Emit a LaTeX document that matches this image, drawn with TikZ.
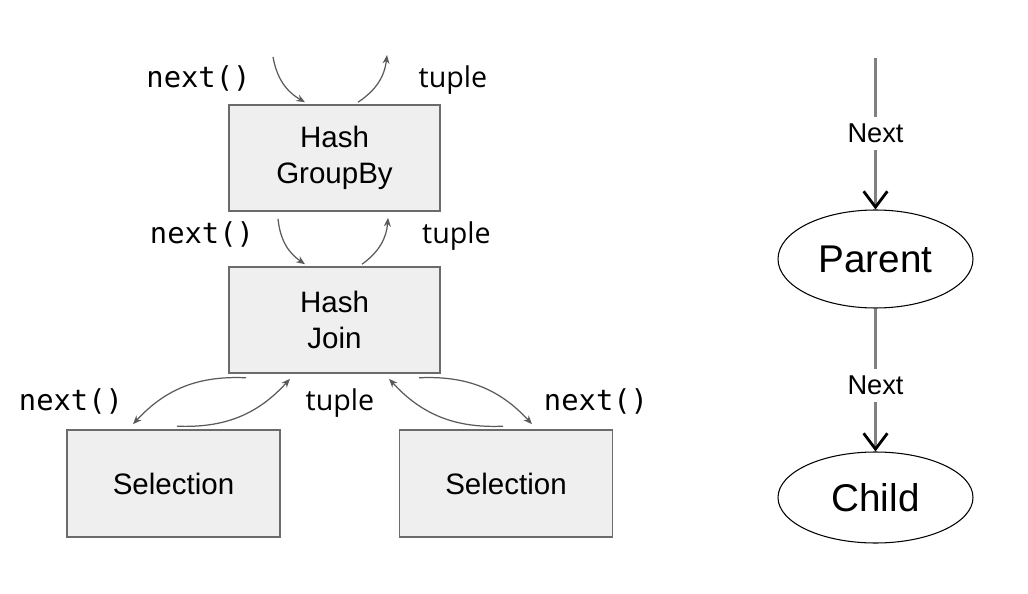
\documentclass[tikz,border=0pt]{standalone}
\usepackage{fontspec}
\setmainfont{Liberation Sans}
\newfontfamily\codefont{DejaVu Sans Mono}
\newfontfamily\tuplefont{Open Sans}
\usetikzlibrary{calc,arrows.meta,shapes.geometric}
\definecolor{boxfill}{HTML}{EFEFEF}
\definecolor{boxline}{HTML}{6B6B6B}
\definecolor{callline}{HTML}{5A5A5A}
\definecolor{nextline}{HTML}{808080}

\begin{document}
\begin{tikzpicture}[%
opbox/.style={draw=boxline, fill=boxfill, line width=0.9pt, minimum width=4.22cm, minimum height=2.12cm, align=center, inner sep=0pt, font=\fontsize{16.8}{20.5}\selectfont},
call/.style={draw=callline, line width=0.7pt, -{Stealth[length=5pt,width=4pt]}},
calltext/.style={anchor=base, font=\codefont\fontsize{16.4}{19}\selectfont},
tupletext/.style={anchor=base, font=\tuplefont\fontsize{16.3}{19}\selectfont},
task/.style={draw, ellipse, line width=0.6pt, minimum width=3.9cm, minimum height=1.9cm, font=\fontsize{22}{26}\selectfont},
nextedge/.style={draw=nextline, line width=1.2pt, -{Straight Barb[color=black, length=9pt, width=13.5pt, line width=1.6pt]}},
nexttext/.style={fill=white, inner sep=4pt, font=\fontsize{15.5}{18}\selectfont},
]
\useasboundingbox (0,0) rectangle (20.56,11.86);
%% operators;
\node [opbox] (groupby) at (6.69,8.70) {Hash\\GroupBy};
\node [opbox] (join) at (6.69,5.46) {Hash\\Join};
\node [opbox, minimum width=4.26cm, minimum height=2.14cm] (selleft) at (3.47,2.19) {Selection};
\node [opbox, minimum width=4.26cm, minimum height=2.14cm] (selright) at (10.12,2.19) {Selection};
%% free ends above groupby;
\coordinate (caller) at (5.46,10.72);
\coordinate (consumer) at (7.74,10.76);
%% calls into groupby;
\draw [call] (caller) to[bend right=25] ($(groupby.north)+(-0.59,0.04)$);
\draw [call] ($(groupby.north)+(0.47,0.04)$) to[bend right=25] (consumer);
\node [calltext] (callgb) at (3.97,10.10) {next()};
\node [tupletext] (tuplegb) at (9.06,10.10) {tuple};
%% calls into join;
\draw [call] ($(groupby.south)+(-1.13,-0.14)$) to[bend right=25] ($(join.north)+(-0.59,0.04)$);
\draw [call] ($(join.north)+(0.55,0.04)$) to[bend right=25] ($(groupby.south)+(1.07,-0.12)$);
\node [calltext] (calljoin) at (4.04,6.98) {next()};
\node [tupletext] (tuplejoin) at (9.13,6.98) {tuple};
%% calls into selections;
\draw [call] ($(join.south)+(-1.77,-0.08)$) to[bend right=25] ($(selleft.north)+(-0.81,0.10)$);
\draw [call] ($(selleft.north)+(0.07,0.06)$) to[bend right=25] ($(join.south)+(-0.89,-0.10)$);
\draw [call] ($(selright.north)+(-0.06,0.06)$) to[bend left=25] ($(join.south)+(1.09,-0.10)$);
\draw [call] ($(join.south)+(1.69,-0.08)$) to[bend left=25] ($(selright.north)+(0.52,0.10)$);
\node [calltext] (callleft) at (1.42,3.66) {next()};
\node [tupletext] (tuplesel) at (6.80,3.66) {tuple};
\node [calltext] (callright) at (11.92,3.66) {next()};
%% parent and child;
\coordinate (root) at (17.51,10.70);
\node [task, minimum height=1.96cm] (parent) at (17.51,6.68) {Parent};
\node [task, minimum height=1.82cm] (child) at (17.51,1.91) {Child};
\draw [nextedge] (root) -- node[nexttext] (nexttop) {Next} (parent);
\draw [nextedge] (parent) -- node[nexttext, pos=0.54] (nextbottom) {Next} (child);
\end{tikzpicture}
\end{document}
